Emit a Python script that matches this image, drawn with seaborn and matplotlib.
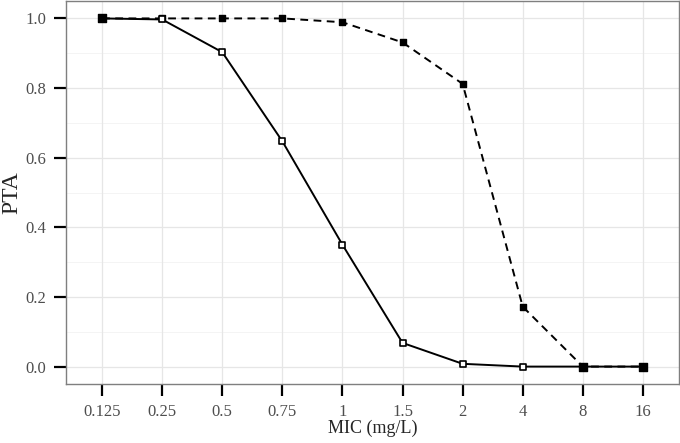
import seaborn as sns
import matplotlib.pyplot as plt
import pandas as pd

# Dane
mic_labels = ["0.125", "0.25", "0.5", "0.75", "1", "1.5", "2", "4", "8", "16"]
pta_solid = [1.0, 0.997, 0.903, 0.647, 0.350, 0.068, 0.008, 0.0, 0.0, 0.0]
pta_dashed = [1.0, 1.0, 1.0, 1.0, 0.989, 0.931, 0.812, 0.172, 0.0, 0.0]

sns.set_style("white")
plt.rcParams["font.family"] = ["Liberation Serif", "DejaVu Serif"]
plt.rcParams.update({
    "xtick.bottom": True, "ytick.left": True,
    "xtick.direction": "out", "ytick.direction": "out",
    "xtick.major.size": 8.5, "ytick.major.size": 8.5,
    "xtick.major.width": 1.6, "ytick.major.width": 1.6,
    "xtick.color": "black", "ytick.color": "black",
})

df = pd.DataFrame({
    "mic": mic_labels * 2,
    "pta": pta_solid + pta_dashed,
    "regimen": ["A"] * len(mic_labels) + ["B"] * len(mic_labels),
})
df["pos"] = df["mic"].map({m: i for i, m in enumerate(mic_labels)})

fig = plt.figure(figsize=(6.8, 4.43), dpi=100)
ax = fig.add_axes([66 / 680, 59 / 443, 613 / 680, 383 / 443])

# siatka w stylu ggplot theme_bw
for y in [0.1, 0.3, 0.5, 0.7, 0.9]:
    ax.axhline(y, color="#f2f2f2", lw=0.6, zorder=0)
for y in [0.0, 0.2, 0.4, 0.6, 0.8, 1.0]:
    ax.axhline(y, color="#e6e6e6", lw=0.9, zorder=0)
for i in range(len(mic_labels)):
    ax.axvline(i, color="#e6e6e6", lw=0.9, zorder=0)

sns.lineplot(data=df, x="pos", y="pta", style="regimen",
             dashes={"A": "", "B": (4, 2.8)}, color="black", lw=1.4,
             legend=False, ax=ax, zorder=2)

solid = df[df["regimen"] == "A"]
dashed = df[df["regimen"] == "B"]
ax.scatter(dashed["pos"], dashed["pta"], marker="s", s=14, color="black", zorder=3)
ax.scatter(solid["pos"], solid["pta"], marker="s", s=22, facecolor="white",
           edgecolor="black", linewidth=1.2, zorder=4)
both = solid[solid["pta"].values == dashed["pta"].values]
ax.scatter(both["pos"], both["pta"], marker="s", s=30, color="black", zorder=5)

ax.set_xlim(-0.6, len(mic_labels) - 0.4)
ax.set_ylim(-0.05, 1.05)
ax.set_xticks(range(len(mic_labels)))
ax.set_xticklabels(mic_labels)
ax.set_yticks([0.0, 0.2, 0.4, 0.6, 0.8, 1.0])
ax.set_yticklabels(["0.0", "0.2", "0.4", "0.6", "0.8", "1.0"])
ax.tick_params(axis="both", which="major", labelsize=12, labelcolor="#4d4d4d", pad=6)
ax.set_xlabel("MIC (mg/L)", fontsize=13, labelpad=0)
ax.set_ylabel("PTA", fontsize=17, labelpad=2)

for s in ax.spines.values():
    s.set_color("#7f7f7f")
    s.set_linewidth(1.0)

fig.savefig("out.png", dpi=100)
